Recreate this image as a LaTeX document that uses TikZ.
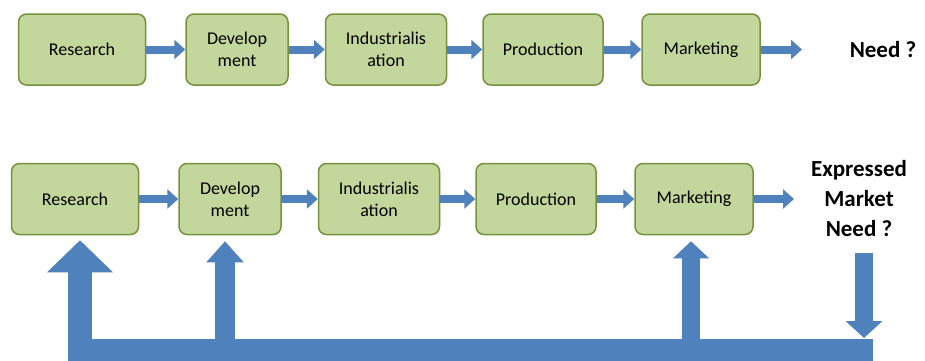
\documentclass[tikz,border=0pt]{standalone}
\usepackage{fontspec}
\setmainfont{Carlito}
\usepackage{tikz}
\usetikzlibrary{arrows.meta,positioning}
\definecolor{stagefill}{HTML}{C3D69B}
\definecolor{stageline}{HTML}{76923C}
\definecolor{flowblue}{HTML}{4F81BD}
\tikzset{
    stage/.style={
           rectangle,
           rounded corners=8pt,
           draw=stageline,
           line width=1.5pt,
           fill=stagefill,
           minimum height=71pt,
           inner sep=2pt,
           align=center,
           font=\fontsize{18}{22}\selectfont,
           },
    flow/.style={
           draw=flowblue,
           line width=8pt,
           -{Triangle[length=11pt,width=19pt]},
           },
    feedback/.style={
           draw=flowblue,
           },
    needtext/.style={
           font=\bfseries\fontsize{23}{30}\selectfont,
           align=center,
           },
}

\begin{document}
\begin{tikzpicture}[x=1pt,y=1pt]
\useasboundingbox (0,0) rectangle (925,360);
\node[stage,minimum width=127pt](research) at (82,310.5){Research};
\node[stage,minimum width=102pt,right of=research,node distance=155pt](development){Develop\\ment};
\node[stage,minimum width=121pt,right of=development,node distance=149pt](industrial){Industrialis\\ation};
\node[stage,minimum width=120pt,right of=industrial,node distance=157pt](production){Production};
\node[stage,minimum width=118pt,right of=production,node distance=158pt](marketing){Marketing};
\coordinate[right of=marketing,node distance=101pt](marketingout);
\node[needtext,right of=marketing,node distance=182pt](need){Need ?};
\path[flow] (research) -- (development);
\path[flow] (development) -- (industrial);
\path[flow] (industrial) -- (production);
\path[flow] (production) -- (marketing);
\path[flow] (marketing) -- (marketingout);

\node[stage,minimum width=127pt](researchloop) at (75,161){Research};
\node[stage,minimum width=102pt,right of=researchloop,node distance=155pt](developmentloop){Develop\\ment};
\node[stage,minimum width=121pt,right of=developmentloop,node distance=149pt](industrialloop){Industrialis\\ation};
\node[stage,minimum width=120pt,right of=industrialloop,node distance=157pt](productionloop){Production};
\node[stage,minimum width=118pt,right of=productionloop,node distance=158pt](marketingloop){Marketing};
\coordinate[right of=marketingloop,node distance=100pt](marketingloopout);
\node[needtext,right of=marketingloop,node distance=165pt](marketneed){Expressed\\Market\\Need ?};
\path[flow] (researchloop) -- (developmentloop);
\path[flow] (developmentloop) -- (industrialloop);
\path[flow] (industrialloop) -- (productionloop);
\path[flow] (productionloop) -- (marketingloop);
\path[flow] (marketingloop) -- (marketingloopout);

\coordinate (barleft) at (68,10);
\coordinate (barright) at (873,10);
\coordinate (fbresearch) at (80,10);
\coordinate (fbdevelopment) at (225,10);
\coordinate (fbmarketing) at (691,10);
\coordinate (fbneed) at (864,10);
\draw[feedback,line width=22pt] (barleft) -- (barright);
\draw[feedback,line width=24pt,-{Triangle[length=32pt,width=64pt]},shorten >=5pt] (fbresearch) -- (fbresearch |- researchloop.south);
\draw[feedback,line width=20pt,-{Triangle[length=21pt,width=36pt]},shorten >=6pt] (fbdevelopment) -- (fbdevelopment |- developmentloop.south);
\draw[feedback,line width=18pt,-{Triangle[length=17pt,width=35pt]},shorten >=6pt] (fbmarketing) -- (fbmarketing |- marketingloop.south);
\draw[feedback,line width=18pt,-{Triangle[length=17pt,width=36pt]},shorten <=12pt,shorten >=12pt] (fbneed |- marketneed.south) -- (fbneed);
\end{tikzpicture}
\end{document}
